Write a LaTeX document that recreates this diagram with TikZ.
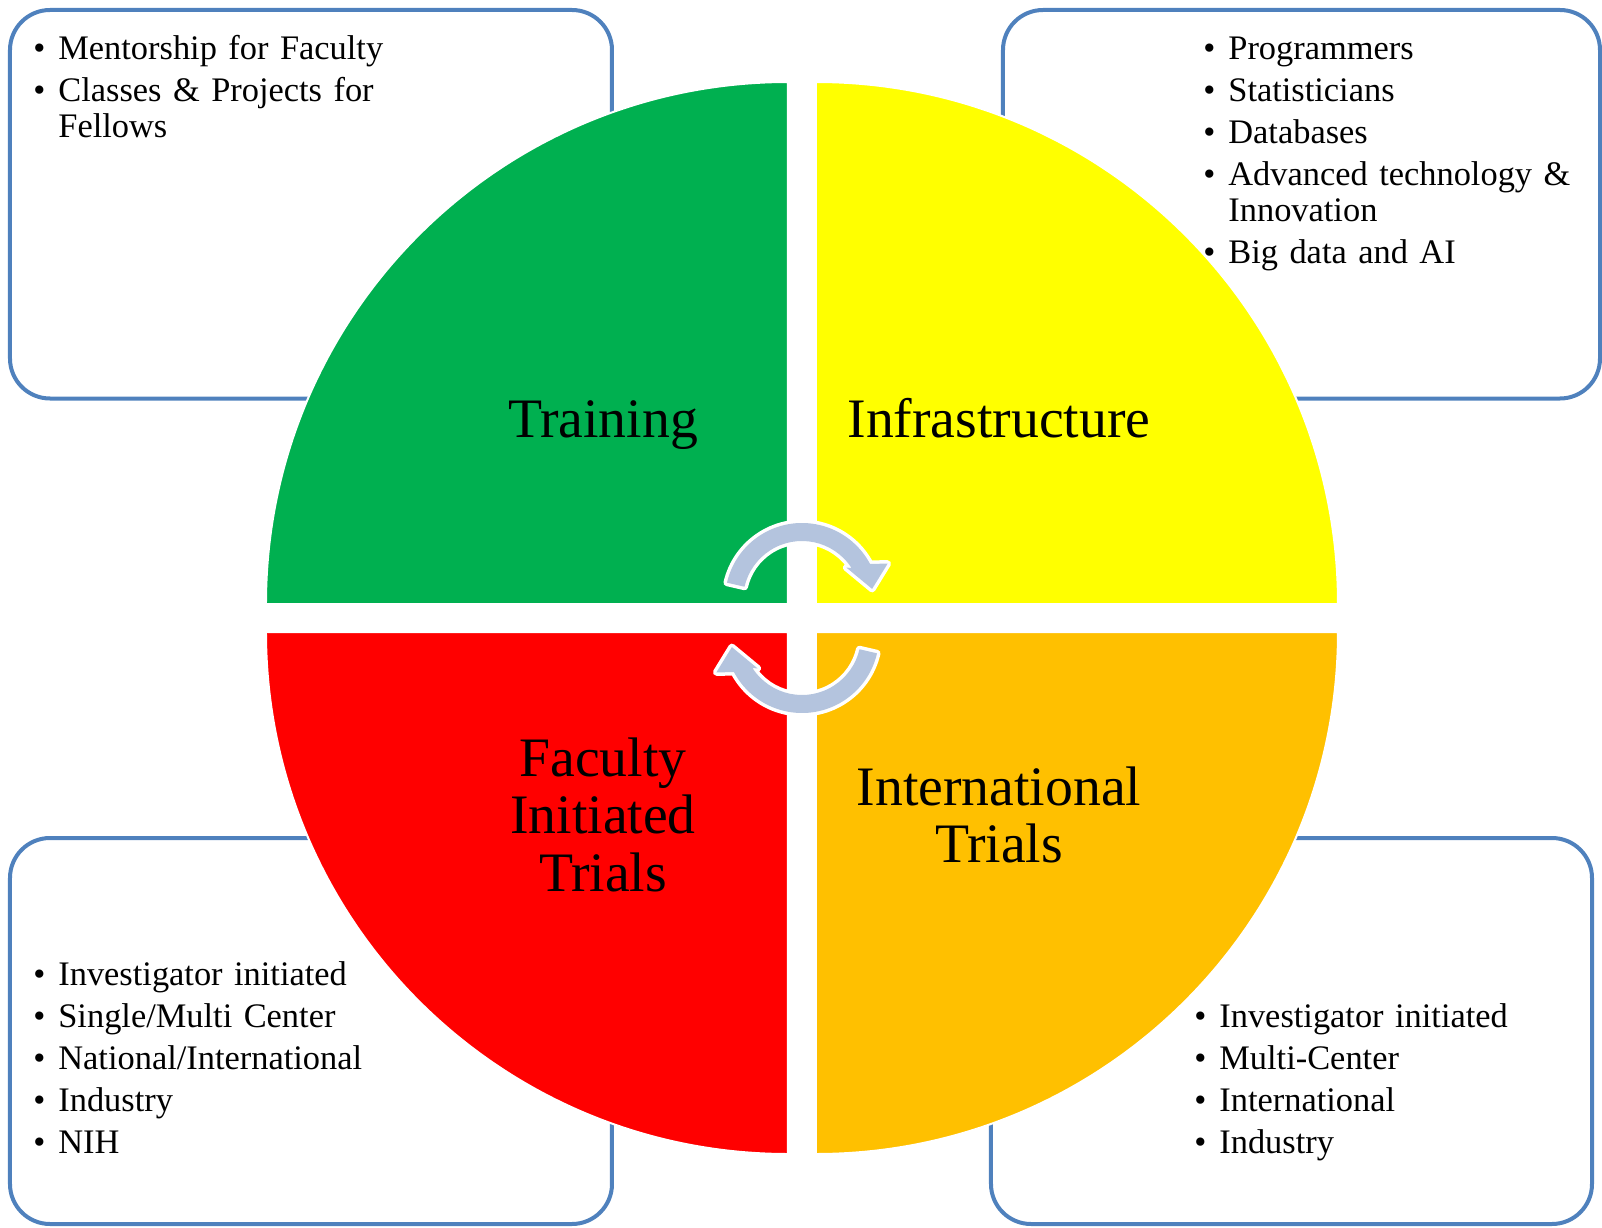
\documentclass[tikz,border=0pt]{standalone}
\usepackage{fontspec}
\setmainfont{Liberation Serif}
\definecolor{boxblue}{HTML}{4F81BD}
\definecolor{qgreen}{HTML}{00B050}
\definecolor{qyellow}{HTML}{FFFF00}
\definecolor{qred}{HTML}{FF0000}
\definecolor{qorange}{HTML}{FFC000}
\definecolor{arrowblue}{RGB}{180,196,222}
\newcommand\bul[1]{\parskip=3pt\hangindent=12.5pt\hangafter=1\noindent\makebox[12.5pt][l]{\textbullet}#1\par}
\begin{document}
\begin{tikzpicture}[x=0.5pt,y=0.5pt, line join=round,
	infobox/.style={draw=boxblue, line width=2pt, rounded corners=20pt},
	quarter/.style={draw=white, line width=1pt},
	turn/.style={fill=arrowblue, preaction={draw=white, line width=3.5pt}},
	list/.style={anchor=base west, inner sep=0pt, text width=200pt, align=left, font=\fontsize{17.2pt}{18pt}\selectfont},
	title/.style={anchor=base, inner sep=0pt, text width=170pt, align=center, font=\fontsize{27.85pt}{28.9pt}\selectfont}]
	\def\R{522} \def\g{14} % radius and half gap
	\useasboundingbox (-802,-609) rectangle (800,618);
	% outer boxes
	\draw[infobox] (-792,219.5) rectangle (-190,608);
	\draw[infobox] (201,219.5) rectangle (798,608);
	\draw[infobox] (-792,-606) rectangle (-190,-220);
	\draw[infobox] (189,-606) rectangle (790,-220);
	% the four quarters
	\filldraw[quarter, fill=qgreen] (-\g,\g) -- ++(-\R,0) arc[start angle=180, end angle=90, radius=\R] -- cycle;
	\filldraw[quarter, fill=qyellow] (\g,\g) -- ++(0,\R) arc[start angle=90, end angle=0, radius=\R] -- cycle;
	\filldraw[quarter, fill=qred] (-\g,-\g) -- ++(0,-\R) arc[start angle=270, end angle=180, radius=\R] -- cycle;
	\filldraw[quarter, fill=qorange] (\g,-\g) -- ++(\R,0) arc[start angle=0, end angle=-90, radius=\R] -- cycle;
	% curved arrows
	\def\swirl{(167:77) arc[start angle=167, end angle=28, radius=77] -- (23:93) -- (9:71) -- (36:55) -- (33:59) arc[start angle=33, end angle=167, radius=59] -- cycle}
	\begin{scope}[shift={(0,18)}]
		\fill[turn] \swirl;
	\end{scope}
	\begin{scope}[rotate=180, shift={(0,18)}]
		\fill[turn] \swirl;
	\end{scope}
	% labels
	\node[title] (training) at (-199,181) {Training};
	\node[title] (infra) at (197,181) {Infrastructure};
	\node[title] (faculty) at (-199,-158) {Faculty\\ Initiated\\ Trials};
	\node[title] (intl) at (197,-187) {International\\ Trials};
	% bullet lists
	\node[list] (traininglist) at (-769,558) {\bul{Mentorship for Faculty}\bul{Classes \& Projects for\newline Fellows}};
	\node[list] (infralist) at (401,558) {\bul{Programmers}\bul{Statisticians}\bul{Databases}\bul{Advanced technology \&\newline Innovation}\bul{Big data and AI}};
	\node[list] (facultylist) at (-769,-367) {\bul{Investigator initiated}\bul{Single/Multi Center}\bul{National/International}\bul{Industry}\bul{NIH}};
	\node[list] (intllist) at (392,-409) {\bul{Investigator initiated}\bul{Multi-Center}\bul{International}\bul{Industry}};
\end{tikzpicture}
\end{document}
